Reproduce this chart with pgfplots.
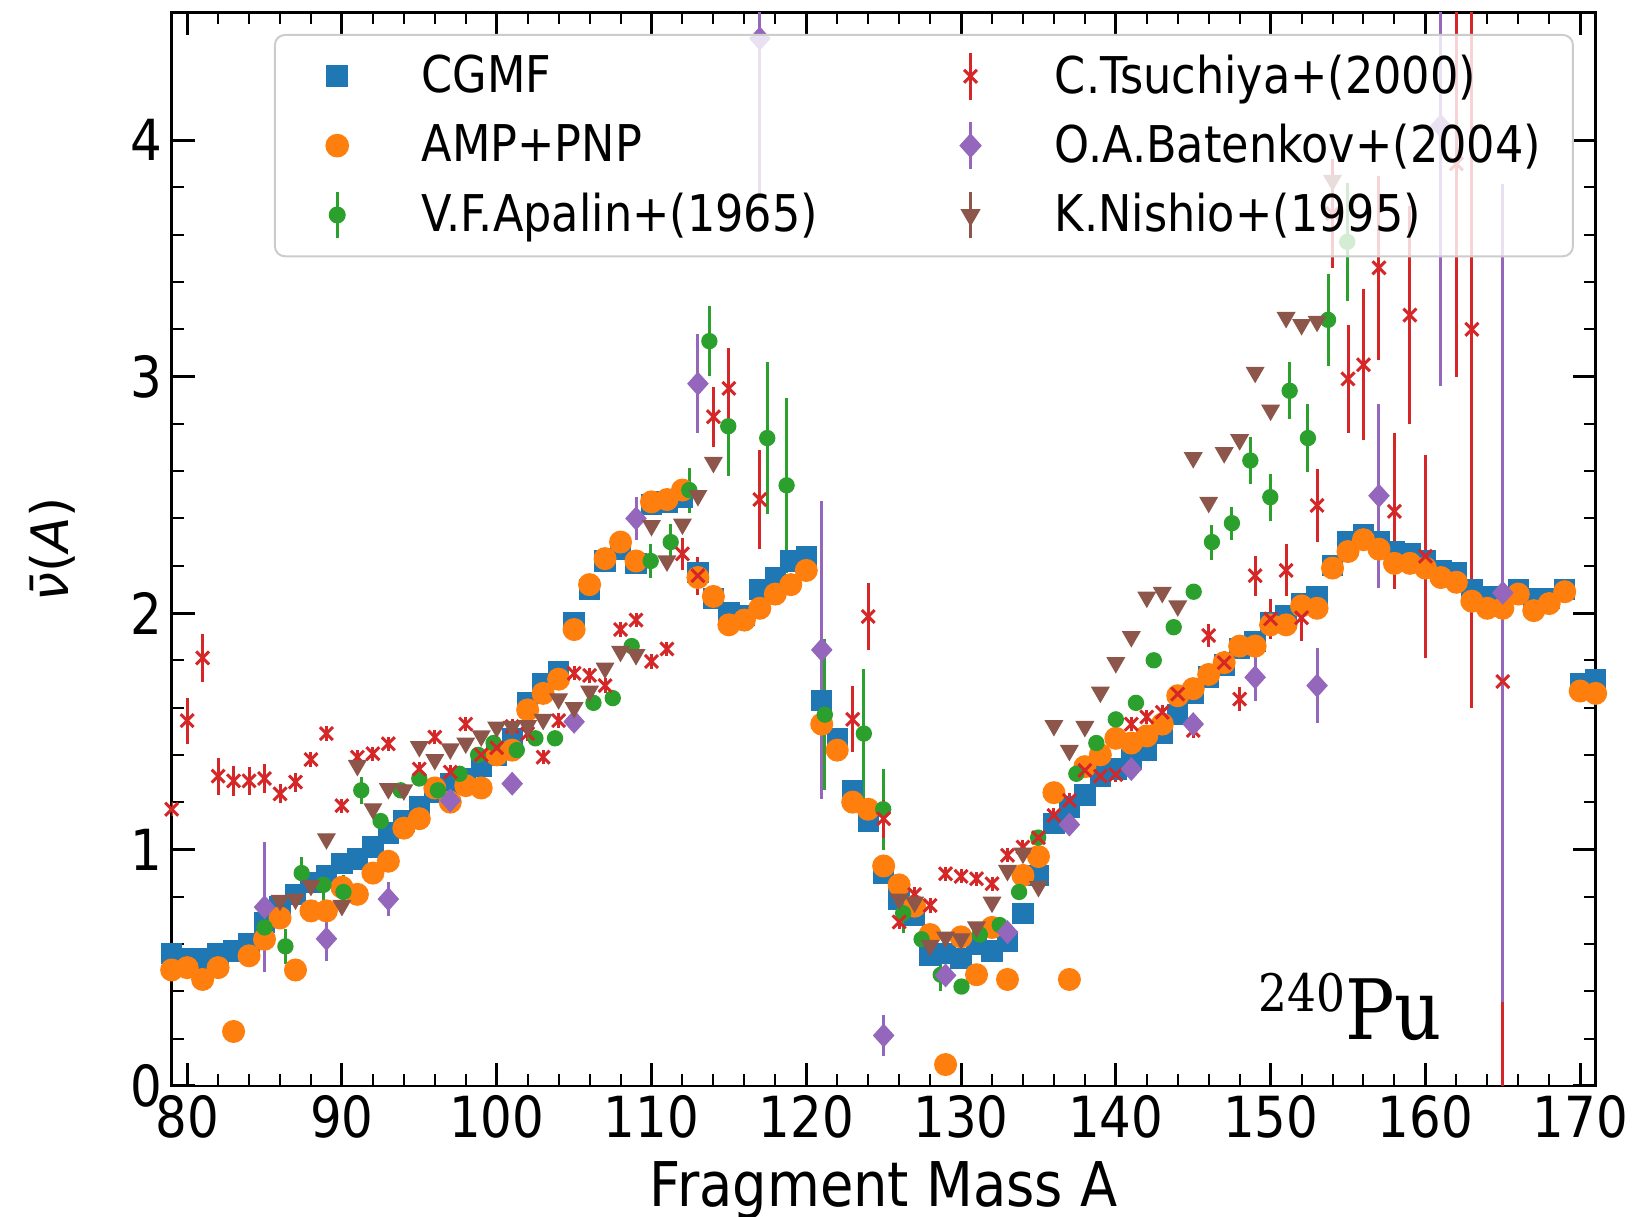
\documentclass[border=0pt]{standalone}
\usepackage{fontspec}
\setmainfont{DejaVu Sans}[FakeStretch=0.88]
\newfontfamily\ylabfont{DejaVu Sans}
\newfontfamily\serifstretch{DejaVu Serif}[FakeStretch=0.88]
\usepackage{pgfplots}
\usepackage{pgfplotstable}
\pgfplotsset{compat=1.18}
\definecolor{tabblue}{HTML}{1F77B4}
\definecolor{taborange}{HTML}{FF7F0E}
\definecolor{tabgreen}{HTML}{2CA02C}
\definecolor{tabred}{HTML}{D62728}
\definecolor{tabpurple}{HTML}{9467BD}
\definecolor{tabbrown}{HTML}{8C564B}

\pgfplotsset{
  errleg/.style={legend image code/.code={%
    \path[draw=none, fill=none] (0pt,-10.4pt) rectangle (44pt,10.4pt);
    \draw[sharp corners, fill opacity=1, draw opacity=1, ##1, mark=none, line width=0.9pt] (18.7pt,-7pt) -- (18.7pt,7pt);
    \draw[sharp corners, fill opacity=1, draw opacity=1, ##1, only marks] plot coordinates {(18.7pt,0pt)};
  }},
  markleg/.style={legend image code/.code={%
    \path[draw=none, fill=none] (0pt,-10.4pt) rectangle (44pt,10.4pt);
    \draw[sharp corners, fill opacity=1, draw opacity=1, ##1, only marks] plot coordinates {(18.7pt,0pt)};
  }},
}

\pgfplotstableread{
A v
79 0.56
80 0.54
81 0.54
82 0.56
83 0.57
84 0.60
85 0.69
86 0.76
87 0.81
88 0.86
89 0.89
90 0.94
91 0.96
92 1.01
93 1.07
94 1.12
95 1.18
96 1.24
97 1.28
98 1.30
99 1.35
100 1.40
101 1.47
102 1.62
103 1.70
104 1.75
105 1.96
106 2.10
107 2.22
108 2.27
109 2.21
110 2.46
111 2.47
112 2.49
113 2.17
114 2.06
115 2.00
116 1.99
117 2.10
118 2.15
119 2.22
120 2.24
121 1.63
122 1.47
123 1.25
124 1.12
125 0.90
126 0.79
127 0.72
128 0.55
129 0.56
130 0.54
131 0.60
132 0.57
133 0.61
134 0.73
135 0.89
136 1.11
137 1.18
138 1.23
139 1.31
140 1.34
141 1.38
142 1.42
143 1.49
144 1.57
145 1.66
146 1.73
147 1.78
148 1.85
149 1.88
150 1.96
151 1.99
152 2.04
153 2.07
154 2.20
155 2.30
156 2.33
157 2.30
158 2.26
159 2.25
160 2.22
161 2.18
162 2.17
163 2.10
164 2.07
165 2.06
166 2.10
167 2.06
168 2.06
169 2.10
170 1.70
171 1.72
}\cgmf

\pgfplotstableread{
A v
79 0.49
80 0.50
81 0.45
82 0.50
83 0.23
84 0.55
85 0.62
86 0.71
87 0.49
88 0.74
89 0.74
90 0.84
91 0.81
92 0.90
93 0.95
94 1.09
95 1.13
96 1.26
97 1.20
98 1.27
99 1.26
100 1.40
101 1.42
102 1.59
103 1.66
104 1.72
105 1.93
106 2.12
107 2.23
108 2.30
109 2.22
110 2.47
111 2.48
112 2.52
113 2.15
114 2.07
115 1.95
116 1.97
117 2.02
118 2.08
119 2.12
120 2.18
121 1.53
122 1.42
123 1.20
124 1.17
125 0.93
126 0.85
127 0.76
128 0.64
129 0.09
130 0.63
131 0.47
132 0.67
133 0.45
134 0.89
135 0.97
136 1.24
137 0.45
138 1.35
139 1.40
140 1.47
141 1.45
142 1.48
143 1.53
144 1.65
145 1.68
146 1.74
147 1.79
148 1.86
149 1.86
150 1.95
151 1.95
152 2.03
153 2.02
154 2.19
155 2.26
156 2.31
157 2.27
158 2.21
159 2.21
160 2.19
161 2.15
162 2.13
163 2.05
164 2.02
165 2.02
166 2.08
167 2.01
168 2.04
169 2.09
170 1.67
171 1.66
}\amp

\pgfplotstableread{
A v e
85.0 0.67 0.04
86.35 0.59 0.074
87.4 0.90 0.07
88.8 0.85 0.075
90.1 0.82 0.07
91.25 1.25 0.056
92.5 1.12 0.03
93.8 1.25 0.03
95.0 1.30 0.03
96.2 1.25 0.03
97.6 1.32 0.03
98.8 1.40 0.03
99.8 1.45 0.03
101.3 1.42 0.03
102.5 1.47 0.03
103.77 1.47 0.03
106.25 1.62 0.03
107.5 1.64 0.03
108.72 1.86 0.03
109.95 2.22 0.07
111.24 2.30 0.075
112.44 2.52 0.095
113.74 3.15 0.148
114.96 2.79 0.21
117.48 2.74 0.32
118.73 2.54 0.37
121.2 1.57 0.32
123.72 1.49 0.275
124.97 1.17 0.172
126.26 0.73 0.085
127.45 0.62 0.03
128.69 0.47 0.07
130.03 0.42 0.03
131.21 0.64 0.03
132.5 0.68 0.03
133.75 0.82 0.03
134.98 1.05 0.03
137.45 1.32 0.03
138.74 1.45 0.03
140.0 1.55 0.03
141.3 1.62 0.03
142.45 1.80 0.03
143.74 1.94 0.03
145.03 2.09 0.03
146.21 2.30 0.074
147.5 2.38 0.07
148.69 2.645 0.10
149.98 2.49 0.10
151.23 2.94 0.12
152.41 2.74 0.145
153.71 3.24 0.195
154.95 3.57 0.25
}\apalin

\pgfplotstableread{
A v e
79 1.17 0.03
80 1.545 0.097
81 1.81 0.10
82 1.31 0.078
83 1.29 0.063
84 1.29 0.06
85 1.30 0.06
86 1.235 0.04
87 1.285 0.04
88 1.38 0.03
89 1.49 0.03
90 1.185 0.03
91 1.39 0.03
92 1.405 0.03
93 1.447 0.03
95 1.34 0.03
96 1.475 0.03
97 1.327 0.03
98 1.53 0.03
99 1.40 0.03
100 1.43 0.03
101 1.52 0.03
102 1.49 0.03
103 1.39 0.03
104 1.545 0.03
105 1.745 0.03
106 1.736 0.03
107 1.693 0.03
108 1.93 0.03
109 1.97 0.03
110 1.795 0.03
111 1.848 0.03
112 2.25 0.067
113 2.158 0.08
114 2.83 0.127
115 2.95 0.17
117 2.48 0.21
123 1.55 0.14
124 1.985 0.14
125 1.13 0.08
126 0.693 0.03
127 0.81 0.03
128 0.763 0.03
129 0.897 0.03
130 0.886 0.03
131 0.876 0.03
132 0.855 0.03
133 0.975 0.03
134 1.01 0.03
135 1.05 0.03
136 1.144 0.03
137 1.207 0.03
138 1.334 0.03
139 1.31 0.03
140 1.317 0.03
141 1.53 0.03
142 1.56 0.03
143 1.58 0.03
144 1.657 0.03
145 1.503 0.03
146 1.905 0.05
147 1.79 0.05
148 1.636 0.05
149 2.158 0.085
150 1.975 0.085
151 2.18 0.11
152 1.98 0.10
153 2.455 0.155
154 3.69 0.23
155 2.99 0.23
156 3.05 0.32
157 3.46 0.39
158 2.43 0.33
159 3.26 0.46
160 2.24 0.43
162 3.90 0.90
163 3.20 1.60
165 1.71 1.80
}\tsuchiya

\pgfplotstableread{
A v e
85 0.756 0.275
89 0.622 0.092
93 0.79 0.073
97 1.207 0.03
101 1.278 0.03
105 1.54 0.03
109 2.40 0.092
113 2.97 0.21
117 4.43 0.67
121 1.844 0.63
125 0.213 0.085
129 0.467 0.03
133 0.65 0.03
137 1.105 0.03
141 1.34 0.03
145 1.53 0.03
149 1.728 0.10
153 1.693 0.16
157 2.496 0.39
161 4.06 1.10
165 2.085 1.73
}\batenkov

\pgfplotstableread{
A v e
86 0.785 0.02
87 0.79 0.02
88 0.848 0.02
89 1.045 0.02
90 0.763 0.02
91 1.355 0.02
92 1.172 0.02
93 1.257 0.02
94 1.252 0.02
95 1.435 0.02
96 1.38 0.02
97 1.425 0.02
98 1.45 0.02
99 1.48 0.02
100 1.517 0.02
101 1.52 0.02
102 1.524 0.02
103 1.55 0.02
104 1.637 0.02
105 1.60 0.02
106 1.67 0.02
107 1.767 0.02
108 1.838 0.02
109 1.824 0.02
110 2.37 0.02
111 2.22 0.02
112 2.376 0.02
113 2.497 0.02
114 2.637 0.02
126 0.79 0.02
127 0.777 0.02
128 0.594 0.02
129 0.629 0.02
130 0.622 0.02
131 0.672 0.02
132 0.777 0.02
133 0.911 0.02
134 0.984 0.02
135 0.843 0.02
136 1.524 0.02
137 1.419 0.02
138 1.52 0.02
139 1.665 0.02
140 1.79 0.02
141 1.90 0.02
142 2.067 0.02
143 2.087 0.02
144 2.03 0.02
145 2.657 0.02
146 2.468 0.02
147 2.678 0.02
148 2.733 0.02
149 3.018 0.02
150 2.858 0.02
151 3.25 0.02
152 3.22 0.02
153 3.234 0.02
154 3.83 0.02
}\nishio

\begin{document}
\begin{tikzpicture}
\begin{axis}[
  at={(0,0)}, anchor=south west,
  scale only axis, width=427.2pt, height=322pt,
  xmin=79, xmax=171, ymin=0, ymax=4.54,
  xtick={80,90,...,170}, ytick={0,1,2,3,4},
  minor x tick num=4, minor y tick num=4,
  tick align=inside,
  major tick length=6.9pt, minor tick length=3.6pt,
  every major tick/.style={line width=0.9pt, black},
  every minor tick/.style={line width=0.6pt, black},
  axis line style={line width=0.7pt},
  /pgf/number format/assume math mode=true,
  ticklabel style={font=\fontsize{17}{17}\selectfont},
  xticklabel style={inner sep=0pt, yshift=-2.6pt, anchor=north},
  yticklabel style={inner sep=0pt, xshift=-2.6pt, anchor=east},
  xlabel={Fragment Mass A},
  xlabel style={font=\fontsize{18.5}{18.5}\selectfont, at={(axis description cs:0.5,-0.112)}, anchor=base, inner sep=0pt},
  ylabel={{\itshape ν̄}({\itshape A})},
  ylabel style={font=\ylabfont\fontsize{15.5}{15.5}\selectfont, at={(axis description cs:-0.0721,0.5)}, anchor=base, inner sep=0pt},
  legend columns=2,
  legend cell align=left,
  legend style={
    at={(0.0718,0.98)}, anchor=north west,
    fill=white, fill opacity=0.8, draw opacity=1, text opacity=1,
    draw=black!20, line width=0.6pt, rounded corners=3pt,
    inner xsep=0pt, inner ysep=2pt,
    font=\fontsize{15.2}{15.2}\selectfont,
    /tikz/column sep=0pt, /tikz/row sep=0pt,
    nodes={inner sep=0pt, anchor=west},
  },
]
\addplot[only marks, mark=square*, tabblue, mark size=3pt, forget plot] table[x=A, y=v] {\cgmf};
\addplot[only marks, mark=*, taborange, mark size=3.25pt, forget plot] table[x=A, y=v] {\amp};
\addplot[only marks, mark=*, tabgreen, mark size=2.25pt, forget plot,
  error bars/.cd, y dir=both, y explicit, error mark=none,
  error bar style={line width=0.9pt, tabgreen}] table[x=A, y=v, y error=e] {\apalin};
\addplot[only marks, mark=x, tabred, mark size=2.75pt, mark options={line width=0.9pt}, forget plot,
  error bars/.cd, y dir=both, y explicit, error mark=none,
  error bar style={line width=0.9pt, tabred}] table[x=A, y=v, y error=e] {\tsuchiya};
\addplot[only marks, mark=diamond*, tabpurple, mark size=3.3pt, mark options={xscale=1.2}, forget plot,
  error bars/.cd, y dir=both, y explicit, error mark=none,
  error bar style={line width=0.9pt, tabpurple}] table[x=A, y=v, y error=e] {\batenkov};
\addplot[only marks, mark=triangle*, tabbrown, mark size=2.9pt, mark options={rotate=180}, forget plot,
  error bars/.cd, y dir=both, y explicit, error mark=none,
  error bar style={line width=0.9pt, tabbrown}] table[x=A, y=v, y error=e] {\nishio};

\addlegendimage{markleg, tabblue, mark=square*, mark size=3pt}
\addlegendentry{\makebox[146pt][l]{CGMF}}
\addlegendimage{errleg, tabred, mark=x, mark size=2.75pt, mark options={line width=0.9pt}}
\addlegendentry{\makebox[155.4pt][l]{C.Tsuchiya+(2000)}}
\addlegendimage{markleg, taborange, mark=*, mark size=3.25pt}
\addlegendentry{\makebox[146pt][l]{AMP+PNP}}
\addlegendimage{errleg, tabpurple, mark=diamond*, mark size=3.3pt, mark options={xscale=1.2}}
\addlegendentry{\makebox[155.4pt][l]{O.A.Batenkov+(2004)}}
\addlegendimage{errleg, tabgreen, mark=*, mark size=2.25pt}
\addlegendentry{\makebox[146pt][l]{V.F.Apalin+(1965)}}
\addlegendimage{errleg, tabbrown, mark=triangle*, mark size=2.9pt, mark options={rotate=180}}
\addlegendentry{\makebox[155.4pt][l]{K.Nishio+(1995)}}

\node[anchor=base west, inner sep=0pt] at (rel axis cs:0.763,0.0435)
  {{\serifstretch\fontsize{15.5}{15.5}\selectfont\raisebox{8.3pt}{240}}{\serifstretch\fontsize{25}{25}\selectfont Pu}};
\end{axis}
\pgfresetboundingbox
\path[use as bounding box] (-51.5pt,-39.3pt) rectangle (438.1pt,325.75pt);
\end{tikzpicture}
\end{document}
